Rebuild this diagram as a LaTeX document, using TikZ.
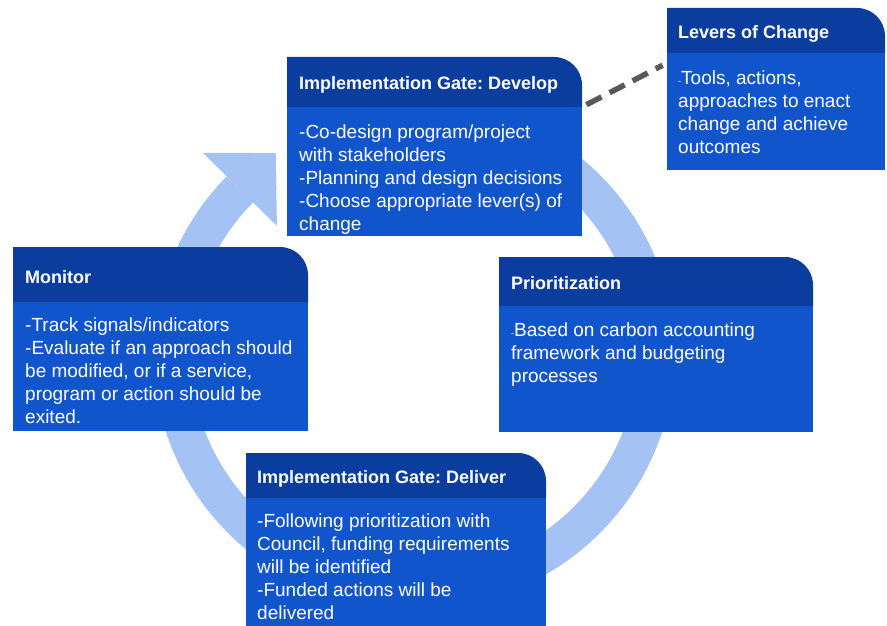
\documentclass[tikz,border=0pt]{standalone}
\usepackage{fontspec}
\setmainfont{Liberation Sans}
\usetikzlibrary{calc}
\frenchspacing

\definecolor{headblue}{HTML}{0B3D9E}
\definecolor{bodyblue}{HTML}{1155CC}
\definecolor{ringblue}{HTML}{A4C2F4}
\definecolor{leadgray}{HTML}{595959}

\tikzset{
  cardtitle/.style={anchor=base west, inner sep=0pt, text=white, font=\bfseries\fontsize{18}{22}\selectfont},
  cardtext/.style={anchor=base west, inner sep=0pt, text=white, align=left, font=\fontsize{19}{23}\selectfont},
  ring/.style={draw=ringblue, line width=37pt},
  leader/.style={draw=leadgray, line width=5.5pt, dash pattern=on 17pt off 9pt, shorten <=5pt, shorten >=5pt}
}

% card: x1, y1, x2, y2, bottom of the header band
\newcommand{\card}[5]{%
  \fill[bodyblue] (#1,#5) rectangle (#3,#4);
  \fill[headblue] (#1,#5) -- (#1,#2) [rounded corners=28pt] -- (#3,#2) [sharp corners] -- (#3,#5) -- cycle;
}
\newcommand{\smalldash}{{\fontsize{9}{9}\selectfont -}}

\begin{document}
\begin{tikzpicture}[x=1pt,y=-1pt]
\useasboundingbox (0,0) rectangle (887,626);
\fill[white] (0,0) rectangle (887,626);

% cycle ring behind the cards
\coordinate (hub) at (414,354);
\coordinate (ring-end) at ($(hub)+(224:242 and 237)$);
\draw[ring] ($(hub)+(250:242 and 237)$) arc[start angle=250, end angle=584, x radius=242, y radius=237];
\fill[ringblue] ($(ring-end)+(-37,-36.5)$) -- ($(ring-end)+(35.8,-36.3)$) -- ($(ring-end)+(37,36.5)$) -- cycle;

% cards
\card{287}{57}{582}{236}{107}
\card{667}{8}{885}{170}{53}
\card{13}{247}{308}{431}{302}
\card{499}{257}{813}{432}{306}
\card{246}{453}{546}{640}{498}

\coordinate (develop-corner) at (582,107);
\coordinate (levers-side) at (667,63);

% multi-line texts sit on the baseline of their last line
\node[cardtitle] (develop-title) at (299,89.5) {Implementation Gate: Develop};
\node[cardtext] (develop-text) at (299,230) {-Co-design program/project\\with stakeholders\\-Planning and design decisions\\-Choose appropriate lever(s) of\\change};

\node[cardtitle] (levers-title) at (678,38.5) {Levers of Change};
\node[cardtext] (levers-text) at (678,153.5) {\smalldash Tools, actions,\\approaches to enact\\change and achieve\\outcomes};

\node[cardtitle] (monitor-title) at (25,283.5) {Monitor};
\node[cardtext] (monitor-text) at (25,423.5) {-Track signals/indicators\\-Evaluate if an approach should\\be modified, or if a service,\\program or action should be\\exited.};

\node[cardtitle] (prior-title) at (511,289.5) {Prioritization};
\node[cardtext] (prior-text) at (511,382.5) {\smalldash Based on carbon accounting\\framework and budgeting\\processes};

\node[cardtitle] (deliver-title) at (257,483.5) {Implementation Gate: Deliver};
\node[cardtext] (deliver-text) at (257,619.5) {-Following prioritization with\\Council, funding requirements\\will be identified\\-Funded actions will be\\delivered};

\draw[leader] (develop-corner) -- (levers-side);
\end{tikzpicture}
\end{document}
